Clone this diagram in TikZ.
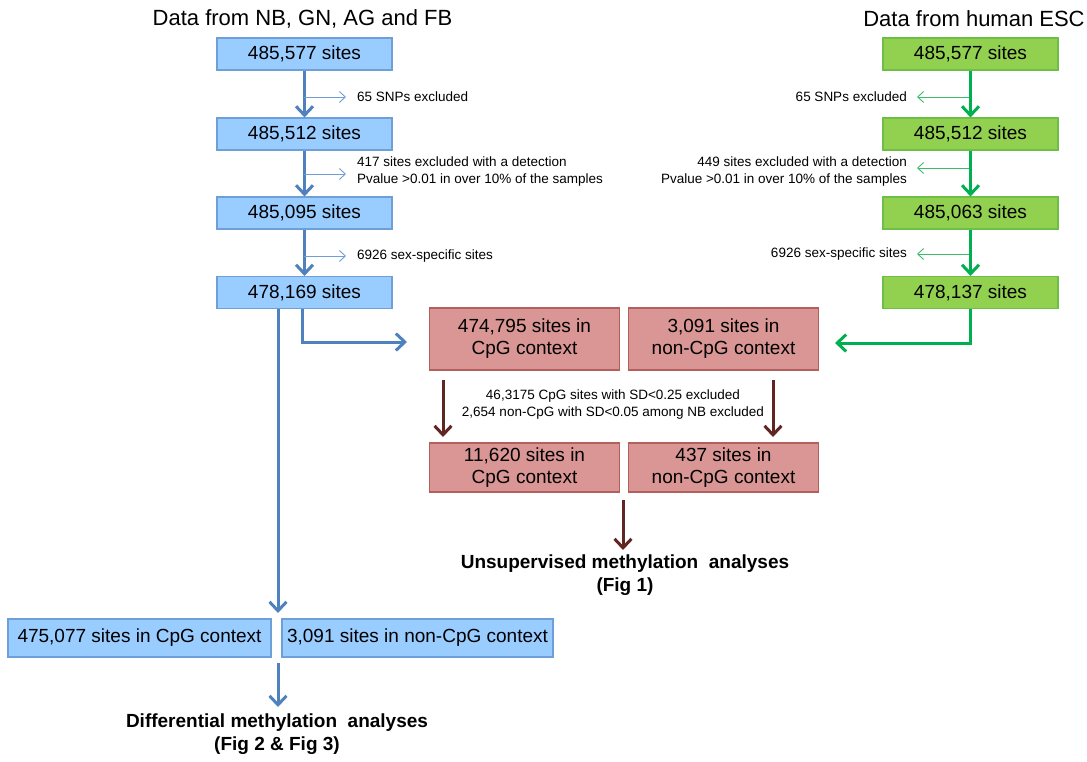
\documentclass[tikz,border=0pt]{standalone}
\usepackage{fontspec}
\setmainfont{Liberation Sans}
\usetikzlibrary{arrows.meta}
\definecolor{bfill}{HTML}{99CCFF}
\definecolor{bdraw}{HTML}{6E9FD8}
\definecolor{barrow}{HTML}{4F81BD}
\definecolor{bthin}{HTML}{6F9ED6}
\definecolor{gfill}{HTML}{92D050}
\definecolor{gdraw}{HTML}{6DBF45}
\definecolor{garrow}{HTML}{00B050}
\definecolor{gthin}{HTML}{3DBA6A}
\definecolor{pfill}{HTML}{D99694}
\definecolor{pdraw}{HTML}{B3605D}
\definecolor{rarrow}{HTML}{632523}
\tikzset{
  box/.style={draw, line width=1.1pt, inner sep=0pt, align=center,
    font=\fontsize{19}{22}\selectfont},
  bluebox/.style={box, fill=bfill, draw=bdraw, minimum width=175pt, minimum height=32pt},
  greenbox/.style={box, fill=gfill, draw=gdraw, minimum width=175pt, minimum height=32pt},
  pinkbox/.style={box, fill=pfill, draw=pdraw, minimum width=190pt},
  wideblue/.style={box, fill=bfill, draw=bdraw, minimum height=38pt},
  mainarrow/.style={line width=3pt, -{Straight Barb[length=9pt,width=17pt]}},
  sidearrow/.style={line width=0.9pt, -{Straight Barb[length=6pt,width=11pt]}},
  lbl/.style={inner sep=0pt, font=\fontsize{13.5}{17}\selectfont},
  header/.style={inner sep=0pt, font=\fontsize{22}{26}\selectfont},
  result/.style={inner sep=0pt, align=center, font=\fontsize{19}{23}\selectfont\bfseries},
}
\begin{document}
\begin{tikzpicture}[x=1pt,y=-1pt]
\useasboundingbox (0,0) rectangle (1087,762);
% headers
\node[header] (hl) at (302.5,19) {Data from NB, GN, AG and FB};
\node[header] (hr) at (974,19) {Data from human ESC};
% blue column
\node[bluebox] (b1) at (304.5,54) {485,577 sites};
\node[bluebox] (b2) at (304.5,134) {485,512 sites};
\node[bluebox] (b3) at (304.5,213) {485,095 sites};
\node[bluebox] (b4) at (304.5,292.5) {478,169 sites};
% green column
\node[greenbox] (g1) at (970.5,54) {485,577 sites};
\node[greenbox] (g2) at (970.5,134) {485,512 sites};
\node[greenbox] (g3) at (970.5,213) {485,063 sites};
\node[greenbox] (g4) at (970.5,292.5) {478,137 sites};
% pink boxes
\node[pinkbox, minimum height=62pt] (p1) at (524.5,339) {474,795 sites in\\CpG context};
\node[pinkbox, minimum height=62pt] (p2) at (723.5,339) {3,091 sites in\\non-CpG context};
\node[pinkbox, minimum height=49pt] (p3) at (524.5,467.5) {11,620 sites in\\CpG context};
\node[pinkbox, minimum height=49pt] (p4) at (723.5,467.5) {437 sites in\\non-CpG context};
% bottom blue boxes
\node[wideblue, minimum width=263pt] (c1) at (139.5,638) {475,077 sites in CpG context};
\node[wideblue, minimum width=271pt] (c2) at (417.5,638) {3,091 sites in non-CpG context};
% labels
\node[lbl, anchor=west] (l1) at (357,97) {65 SNPs excluded};
\node[lbl, anchor=west, align=left] (l2) at (357,172) {417 sites excluded with a detection\\Pvalue >0.01 in over 10\% of the samples};
\node[lbl, anchor=west] (l3) at (357,256) {6926 sex-specific sites};
\node[lbl, anchor=east] (r1) at (907,97) {65 SNPs excluded};
\node[lbl, anchor=east, align=right] (r2) at (907,171.5) {449 sites excluded with a detection\\Pvalue >0.01 in over 10\% of the samples};
\node[lbl, anchor=east] (r3) at (907,254) {6926 sex-specific sites};
\node[lbl, align=center] (m1) at (613,405) {46,3175 CpG sites with SD<0.25 excluded\\2,654 non-CpG with SD<0.05 among NB excluded};
\node[result] (u) at (625,575.5) {Unsupervised methylation\ \ analyses\\(Fig 1)};
\node[result] (d) at (277,734) {Differential methylation\ \ analyses\\(Fig 2 \& Fig 3)};
% coordinates
\coordinate (bs1) at (304,97);   \coordinate (bt1) at (346,97);
\coordinate (bs2) at (304,174);  \coordinate (bt2) at (346,174);
\coordinate (bs3) at (304,256);  \coordinate (bt3) at (346,256);
\coordinate (gs1) at (969,97);   \coordinate (gt1) at (917,97);
\coordinate (gs2) at (969,168);  \coordinate (gt2) at (917,168);
\coordinate (gs3) at (969,254);  \coordinate (gt3) at (917,254);
\coordinate (bk) at (302,342);   \coordinate (bt) at (407,342);
\coordinate (gk) at (970,343);   \coordinate (gt) at (835,343);
\coordinate (lt) at (278,613);
\coordinate (rs1) at (443,380);  \coordinate (rt1) at (443,437);
\coordinate (rs2) at (773,380);  \coordinate (rt2) at (773,437);
\coordinate (rs3) at (623,500);  \coordinate (rt3) at (623,550);
\coordinate (ds) at (278,663);   \coordinate (dt) at (278,707);
% blue main arrows
\draw[mainarrow, barrow] (b1.south) -- (b2.north);
\draw[mainarrow, barrow] (b2.south) -- (b3.north);
\draw[mainarrow, barrow] (b3.south) -- (b4.north);
\draw[sidearrow, bthin] (bs1) -- (bt1);
\draw[sidearrow, bthin] (bs2) -- (bt2);
\draw[sidearrow, bthin] (bs3) -- (bt3);
\draw[mainarrow, barrow] (b4.south -| bk) -- (bk) -- (bt);
\draw[mainarrow, barrow] (b4.south -| lt) -- (lt);
\draw[mainarrow, barrow] (ds) -- (dt);
% green arrows
\draw[mainarrow, garrow] (g1.south) -- (g2.north);
\draw[mainarrow, garrow] (g2.south) -- (g3.north);
\draw[mainarrow, garrow] (g3.south) -- (g4.north);
\draw[sidearrow, gthin] (gs1) -- (gt1);
\draw[sidearrow, gthin] (gs2) -- (gt2);
\draw[sidearrow, gthin] (gs3) -- (gt3);
\draw[mainarrow, garrow] (g4.south -| gk) -- (gk) -- (gt);
% brown arrows
\draw[mainarrow, rarrow] (rs1) -- (rt1);
\draw[mainarrow, rarrow] (rs2) -- (rt2);
\draw[mainarrow, rarrow] (rs3) -- (rt3);
\end{tikzpicture}
\end{document}
